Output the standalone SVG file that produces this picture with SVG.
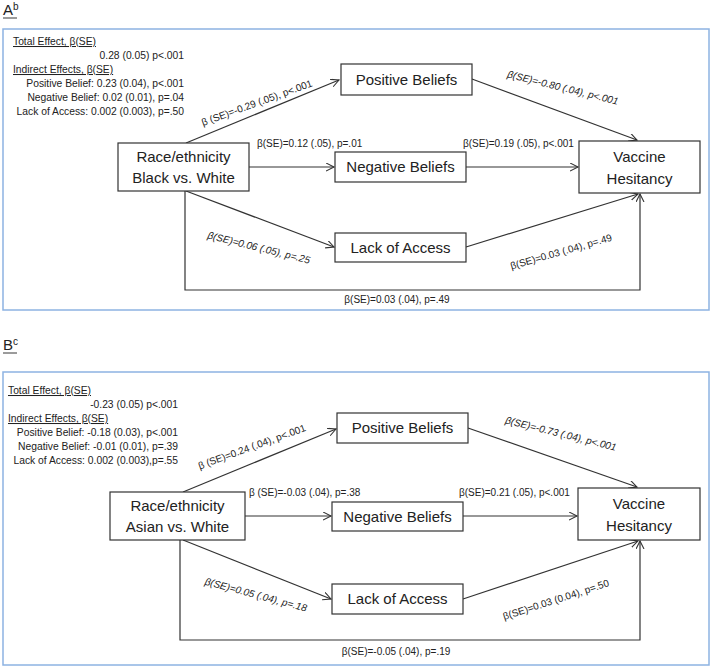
<svg xmlns="http://www.w3.org/2000/svg" width="711" height="667" viewBox="0 0 711 667">
<style>
text{font-family:"Liberation Sans",Arial,sans-serif;fill:#222}
.panel{fill:none;stroke:#8db3e2;stroke-width:1.5}
.box{fill:#fff;stroke:#333;stroke-width:1.2}
.nl{font-size:15px;text-anchor:middle}
.st{font-size:10.3px}
.u{text-decoration:underline}
.r{text-anchor:end}
.el{font-size:10px}
.it{font-style:italic}
.m{text-anchor:middle}
.title{font-size:15px}
.conn line,.conn polyline{stroke:#333;stroke-width:1.2;fill:none}
.ul{stroke:#222;stroke-width:0.9}
</style>
<defs>
<marker id="ah" markerWidth="10" markerHeight="10" refX="8" refY="4" orient="auto" markerUnits="userSpaceOnUse"><path d="M0,0 L8,4 L0,8" fill="none" stroke="#333" stroke-width="1.1"/></marker>
</defs>

<!-- Panel A -->
<g id="panelA">
<text x="3" y="15" class="title">A<tspan font-size="10" dy="-5">b</tspan></text>
<line class="ul" x1="3" y1="18" x2="17" y2="18"/>
<rect class="panel" x="3" y="29" width="706" height="281"/>
<g id="statsA">
<text x="13" y="45" class="st u">Total Effect, β(SE)</text>
<text x="184" y="59" class="st r">0.28 (0.05) p&lt;.001</text>
<text x="13" y="73" class="st u">Indirect Effects, β(SE)</text>
<text x="184" y="87" class="st r">Positive Belief: 0.23 (0.04), p&lt;.001</text>
<text x="184" y="101" class="st r">Negative Belief: 0.02 (0.01), p=.04</text>
<text x="184" y="115" class="st r">Lack of Access: 0.002 (0.003), p=.50</text>
</g>
<g class="conn" id="connA">
<line x1="186" y1="143" x2="339" y2="80" marker-end="url(#ah)"/>
<line x1="249" y1="167" x2="334" y2="167" marker-end="url(#ah)"/>
<line x1="186" y1="191" x2="334" y2="247" marker-end="url(#ah)"/>
<line x1="472" y1="79" x2="637" y2="140" marker-end="url(#ah)"/>
<line x1="466" y1="167" x2="578" y2="167" marker-end="url(#ah)"/>
<line x1="466" y1="247" x2="638" y2="194" marker-end="url(#ah)"/>
<polyline points="185,191 185,290 640,290 640,194" marker-end="url(#ah)"/>
</g>
<g id="nodeA-race"><rect class="box" x="118" y="143" width="131" height="48"/><text x="183.5" y="162" class="nl">Race/ethnicity</text><text x="183.5" y="183" class="nl">Black vs. White</text></g>
<g id="nodeA-pos"><rect class="box" x="341" y="64" width="131" height="31"/><text x="406.5" y="85" class="nl">Positive Beliefs</text></g>
<g id="nodeA-neg"><rect class="box" x="335" y="152" width="131" height="30"/><text x="400.5" y="172" class="nl">Negative Beliefs</text></g>
<g id="nodeA-lack"><rect class="box" x="335" y="233" width="131" height="29"/><text x="400.5" y="253" class="nl">Lack of Access</text></g>
<g id="nodeA-vh"><rect class="box" x="579" y="141" width="121" height="52"/><text x="639.5" y="162" class="nl">Vaccine</text><text x="639.5" y="184" class="nl">Hesitancy</text></g>
<g id="labelsA">
<text class="el m" transform="translate(258,106) rotate(-20)">β (SE)=-0.29 (.05), p&lt;.001</text>
<text class="el it m" transform="translate(562,91) rotate(14)">β(SE)=-0.80 (.04), p&lt;.001</text>
<text x="257" y="147" class="el">β(SE)=0.12 (.05), p=.01</text>
<text x="463" y="147" class="el">β(SE)=0.19 (.05), p&lt;.001</text>
<text class="el it m" transform="translate(258,251) rotate(14)">β(SE)=0.06 (.05), p=.25</text>
<text class="el m" transform="translate(562,255) rotate(-16)">β(SE)=0.03 (.04), p=.49</text>
<text x="397" y="303" class="el m">β(SE)=0.03 (.04), p=.49</text>
</g>
</g>

<!-- Panel B -->
<g id="panelB">
<text x="3" y="350" class="title">B<tspan font-size="10" dy="-5">c</tspan></text>
<line class="ul" x1="3" y1="353" x2="17" y2="353"/>
<rect class="panel" x="3" y="372" width="706" height="293"/>
<g id="statsB">
<text x="8" y="394" class="st u">Total Effect, β(SE)</text>
<text x="178" y="408" class="st r">-0.23 (0.05) p&lt;.001</text>
<text x="8" y="422" class="st u">Indirect Effects, β(SE)</text>
<text x="178" y="436" class="st r">Positive Belief: -0.18 (0.03), p&lt;.001</text>
<text x="178" y="450" class="st r">Negative Belief: -0.01 (0.01), p=.39</text>
<text x="178" y="464" class="st r">Lack of Access: 0.002 (0.003),p=.55</text>
</g>
<g class="conn" id="connB">
<line x1="183" y1="492" x2="336" y2="429" marker-end="url(#ah)"/>
<line x1="245" y1="516" x2="331" y2="516" marker-end="url(#ah)"/>
<line x1="183" y1="540" x2="331" y2="599" marker-end="url(#ah)"/>
<line x1="468" y1="428" x2="637" y2="487" marker-end="url(#ah)"/>
<line x1="463" y1="516" x2="577" y2="516" marker-end="url(#ah)"/>
<line x1="463" y1="599" x2="638" y2="541" marker-end="url(#ah)"/>
<polyline points="180,540 180,640 640,640 640,541" marker-end="url(#ah)"/>
</g>
<g id="nodeB-race"><rect class="box" x="110" y="492" width="135" height="48"/><text x="177.5" y="511" class="nl">Race/ethnicity</text><text x="177.5" y="532" class="nl">Asian vs. White</text></g>
<g id="nodeB-pos"><rect class="box" x="337" y="413" width="131" height="30"/><text x="402.5" y="433" class="nl">Positive Beliefs</text></g>
<g id="nodeB-neg"><rect class="box" x="332" y="502" width="131" height="29"/><text x="397.5" y="522" class="nl">Negative Beliefs</text></g>
<g id="nodeB-lack"><rect class="box" x="332" y="584" width="131" height="30"/><text x="397.5" y="604" class="nl">Lack of Access</text></g>
<g id="nodeB-vh"><rect class="box" x="578" y="488" width="122" height="52"/><text x="639" y="509" class="nl">Vaccine</text><text x="639" y="531" class="nl">Hesitancy</text></g>
<g id="labelsB">
<text class="el m" transform="translate(253,450) rotate(-20)">β (SE)=0.24 (.04), p&lt;.001</text>
<text class="el it m" transform="translate(560,437) rotate(14)">β(SE)=-0.73 (.04), p&lt;.001</text>
<text x="249" y="496" class="el">β (SE)=-0.03 (.04), p=.38</text>
<text x="459" y="496" class="el">β(SE)=0.21 (.05), p&lt;.001</text>
<text class="el it m" transform="translate(255,598) rotate(15)">β(SE)=0.05 (.04), p=.18</text>
<text class="el m" transform="translate(557,603) rotate(-18)">β(SE)=0.03 (0.04), p=.50</text>
<text x="396" y="655" class="el m">β(SE)=-0.05 (.04), p=.19</text>
</g>
</g>
</svg>
